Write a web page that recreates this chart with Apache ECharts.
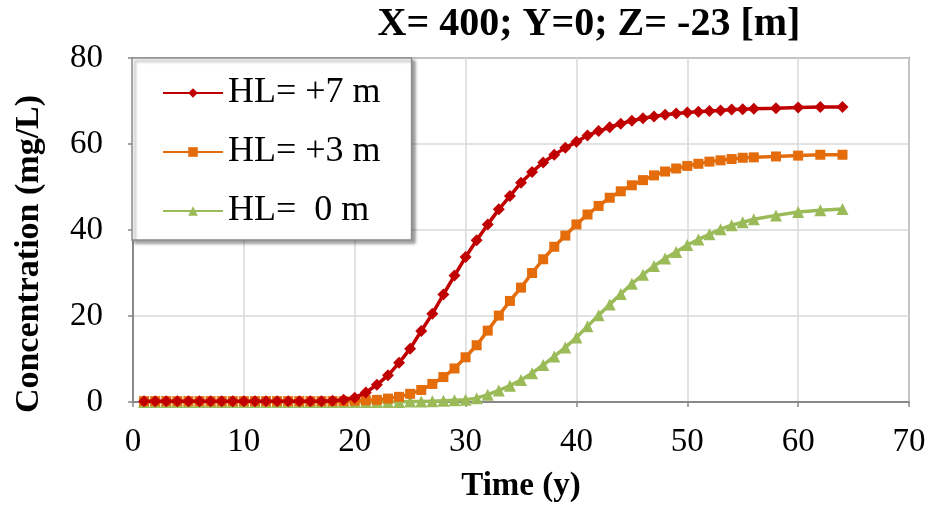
<!DOCTYPE html>
<html>
<head>
<meta charset="utf-8">
<script src="https://cdn.jsdelivr.net/npm/echarts@6/dist/echarts.min.js"></script>
<style>html,body{margin:0;padding:0;background:#fff}#c{width:931px;height:508px}</style>
</head>
<body>
<div id="c"></div>
<script>
const years = [1,2,3,4,5,6,7,8,9,10,11,12,13,14,15,16,17,18,19,20,21,22,23,24,25,26,27,28,29,30,31,32,33,34,35,36,37,38,39,40,41,42,43,44,45,46,47,48,49,50,51,52,53,54,55,56,58,60,62,64];
const hl7 = [0.2,0.2,0.2,0.2,0.2,0.2,0.2,0.2,0.2,0.2,0.2,0.2,0.2,0.2,0.2,0.2,0.2,0.3,0.5,1.0,2.2,4.0,6.2,9.1,12.4,16.5,20.5,25.0,29.4,33.7,37.6,41.3,44.8,47.9,51.0,53.5,55.7,57.5,59.1,60.5,62.0,63.0,63.9,64.7,65.4,66.0,66.4,66.8,67.1,67.3,67.5,67.7,67.8,68.0,68.1,68.2,68.3,68.5,68.6,68.6];
const hl3 = [0.2,0.2,0.2,0.2,0.2,0.2,0.2,0.2,0.2,0.2,0.2,0.2,0.2,0.2,0.2,0.2,0.2,0.2,0.2,0.3,0.4,0.5,0.8,1.2,1.9,2.8,4.2,5.8,7.8,10.4,13.2,16.6,20.1,23.5,26.6,30.0,33.2,36.1,38.7,41.3,43.6,45.6,47.5,49.0,50.4,51.6,52.7,53.6,54.3,54.9,55.4,55.9,56.2,56.5,56.8,56.9,57.1,57.3,57.5,57.5];
const hl0 = [0,0,0,0,0,0,0,0,0,0,0,0,0,0,0,0,0,0,0,0,0,0,0,0,0.1,0.1,0.2,0.3,0.4,0.5,0.9,1.7,2.7,3.8,5.1,6.7,8.6,10.6,12.7,15.0,17.6,20.2,22.7,25.1,27.5,29.6,31.6,33.4,34.9,36.5,37.8,39.0,40.2,41.1,41.8,42.5,43.4,44.2,44.6,44.9];
const xTicks = [0,10,20,30,40,50,60,70];
const yTicks = [0,20,40,60,80];
const seriesNames = ['HL= +7 m','HL= +3 m','HL=  0 m'];
const titleText = 'X= 400; Y=0; Z= -23 [m]';
const yTitle = 'Concentration (mg/L)';
const colors = ['#C00000','#E46C0A','#9BBB59'];

const pair = arr => years.map((x,i)=>[x,arr[i]]);
const font = 'Liberation Serif, Times New Roman, serif';

const chart = echarts.init(document.getElementById('c'), null, {renderer:'canvas'});
chart.setOption({
  animation:false,
  backgroundColor:'#fff',
  graphic:[{
    type:'text', x:589, y:5, z:10,
    style:{text:titleText, textAlign:'center', textVerticalAlign:'top',
      font:'bold 40px Liberation Serif', fill:'#000'}
  },{
    type:'text', x:29, y:254, rotation:Math.PI/2, z:10,
    style:{text:yTitle, textAlign:'center', textVerticalAlign:'middle',
      font:'bold 34px Liberation Serif', fill:'#000'}
  }],
  grid:{left:133, right:22, top:58, bottom:104.5, show:true, borderColor:'#898989', borderWidth:2, backgroundColor:'transparent'},
  legend:{
    data:seriesNames,
    orient:'vertical',
    left:132, top:58,
    padding:[17,31,11,30],
    itemGap:23,
    itemWidth:60,
    itemHeight:12,
    backgroundColor:'#fff',
    borderColor:'#898989',
    borderWidth:1.5,
    shadowColor:'rgba(0,0,0,0.35)',
    shadowBlur:3,
    shadowOffsetX:3,
    shadowOffsetY:3,
    textStyle:{fontFamily:font, fontSize:36, color:'#000'}
  },
  xAxis:{
    type:'value', min:0, max:70, interval:10,
    name:'Time (y)', nameLocation:'middle', nameGap:68,
    nameTextStyle:{fontFamily:font, fontWeight:'bold', fontSize:33, color:'#000'},
    axisLine:{show:true, onZero:false, lineStyle:{color:'#898989', width:2}},
    axisTick:{show:true, length:5, lineStyle:{color:'#898989', width:1.5}},
    axisLabel:{fontFamily:font, fontSize:33, color:'#000', margin:24},
    splitLine:{show:true, lineStyle:{color:'#D9D9D9', width:1.5}}
  },
  yAxis:{
    type:'value', min:0, max:80, interval:20,
    axisLine:{show:true, lineStyle:{color:'#898989', width:2}},
    axisTick:{show:true, length:5, lineStyle:{color:'#898989', width:1.5}},
    axisLabel:{fontFamily:font, fontSize:33, color:'#000', margin:30},
    splitLine:{show:true, lineStyle:{color:'#D9D9D9', width:1.5}}
  },
  series:[
    {name:seriesNames[0], type:'line', data:pair(hl7), z:4, symbol:'diamond', symbolSize:12, showAllSymbol:true,
     itemStyle:{color:colors[0]}, lineStyle:{color:colors[0], width:3.5}},
    {name:seriesNames[1], type:'line', data:pair(hl3), z:3, symbol:'rect', symbolSize:10, showAllSymbol:true,
     itemStyle:{color:colors[1]}, lineStyle:{color:colors[1], width:3.5}},
    {name:seriesNames[2], type:'line', data:pair(hl0), z:2, symbol:'triangle', symbolSize:12, showAllSymbol:true,
     itemStyle:{color:colors[2]}, lineStyle:{color:colors[2], width:3.5}}
  ]
});
</script>
</body>
</html>
